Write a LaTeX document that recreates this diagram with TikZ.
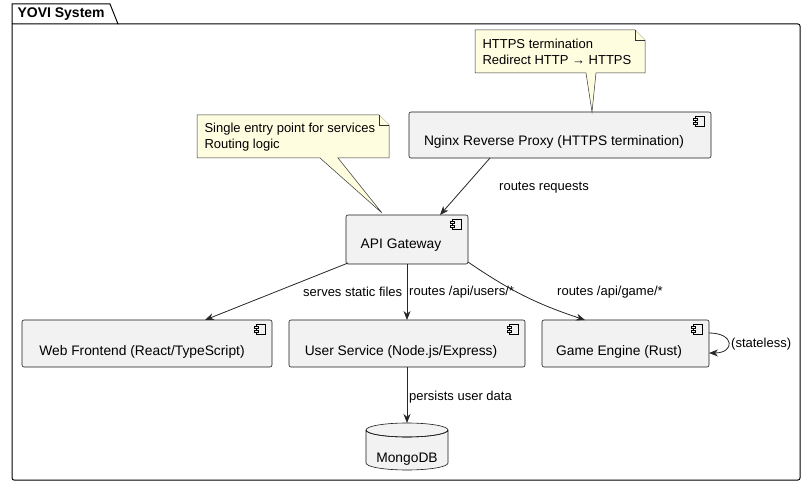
\documentclass[tikz,border=0pt]{standalone}
\usepackage{fontspec}
\setmainfont{Liberation Sans}
\usetikzlibrary{arrows.meta}
\begin{document}
\begin{tikzpicture}[x=1pt,y=-1pt,font=\fontsize{13}{15.5}\selectfont,
 comp/.style={draw=black!90,fill=black!5,rounded corners=2pt,line width=0.6pt},
 ctext/.style={font=\fontsize{13.8}{16}\selectfont},
 note/.style={draw=black!80,fill=yellow!12!white,line width=0.5pt},
 arr/.style={-{Stealth[length=9pt,width=7pt]},line width=0.8pt,draw=black!85},
 lbl/.style={inner sep=1pt,anchor=west}]
\useasboundingbox (0,0) rectangle (806,486);
% package
\draw[line width=1pt,rounded corners=2pt] (12,24) -- (12,480) -- (800,480) -- (800,24) -- (118,24);
\draw[line width=1pt] (12,24) -- (12,4) -- (110,4) -- (118,24) -- (12,24);
\node[anchor=west,font=\fontsize{14}{16}\selectfont\bfseries] (pkg) at (14,14) {YOVI System};
% component icon
\newcommand\cicon[2]{%
 \draw[line width=0.4pt,fill=black!5] (#1-9,#2+4) rectangle (#1,#2+14);
 \draw[line width=0.4pt,fill=black!5] (#1-11,#2+6) rectangle (#1-7,#2+8);
 \draw[line width=0.4pt,fill=black!5] (#1-11,#2+10) rectangle (#1-7,#2+12);}
% nodes
\draw[comp] (409,112) rectangle (711,158); \cicon{704}{112}
\node (ngx) at (560,135) [minimum width=302pt,minimum height=46pt] {};
\node[ctext] at (554,142) {Nginx Reverse Proxy (HTTPS termination)};
\draw[comp] (346,215) rectangle (468,264); \cicon{461}{215}
\node (api) at (407,239.5) [minimum width=122pt,minimum height=49pt] {};
\node[ctext] at (401,245) {API Gateway};
\draw[comp] (22,320) rectangle (272,367); \cicon{265}{320}
\node (web) at (147,343.5) [minimum width=250pt,minimum height=47pt] {};
\node[ctext] at (142,352) {Web Frontend (React/TypeScript)};
\draw[comp] (289,320) rectangle (525,367); \cicon{518}{320}
\node (usr) at (407,343.5) [minimum width=236pt,minimum height=47pt] {};
\node[ctext] at (401,352) {User Service (Node.js/Express)};
\draw[comp] (542,320) rectangle (709,367); \cicon{702}{320}
\node (game) at (625.5,343.5) [minimum width=167pt,minimum height=47pt] {};
\node[ctext] at (619,352) {Game Engine (Rust)};
% mongo cylinder
\draw[draw=black!90,fill=black!5,line width=0.6pt] (366,430) -- (366,463) arc[start angle=180,end angle=360,x radius=41,y radius=-7] -- (448,430) arc[start angle=0,end angle=360,x radius=41,y radius=-7];
\draw[draw=black!90,line width=0.6pt] (366,430) arc[start angle=180,end angle=360,x radius=41,y radius=-7];
\node (db) at (407,446.5) [minimum width=82pt,minimum height=47pt] {};
\node[ctext] at (407,459) {MongoDB};
% notes
\draw[note] (475,30) -- (635,30) -- (645,40) -- (645,73) -- (596,73) -- (592,112) -- (586,73) -- (475,73) -- cycle;
\draw[note] (635,30) -- (635,40) -- (645,40);
\node[anchor=west,align=left] (n1) at (479,52) {HTTPS termination\\Redirect HTTP → HTTPS};
\draw[note] (197,115) -- (379,115) -- (389,125) -- (389,158) -- (338,158) -- (382,213) -- (320,158) -- (197,158) -- cycle;
\draw[note] (379,115) -- (379,125) -- (389,125);
\node[anchor=west,align=left] (n2) at (201,137) {Single entry point for services\\Routing logic};
% edges
\draw[arr] (490,158) -- (440,215);
\node[lbl] at (498,188) {routes requests};
\draw[arr] (348,263) -- (205,320);
\node[lbl] at (302,292) {serves static files};
\draw[arr] (407,264) -- (407,320);
\node[lbl] at (408,292) {routes /api/users/*};
\draw[arr] (468,262) to[bend right=8] (585,320);
\node[lbl] at (556,292) {routes /api/game/*};
\draw[arr] (709,333) .. controls (735,333) and (735,353) .. (709,353);
\node[lbl] at (730,344) {(stateless)};
\draw[arr] (407,367) -- (407,423);
\node[lbl] at (408,397) {persists user data};
\end{tikzpicture}
\end{document}
